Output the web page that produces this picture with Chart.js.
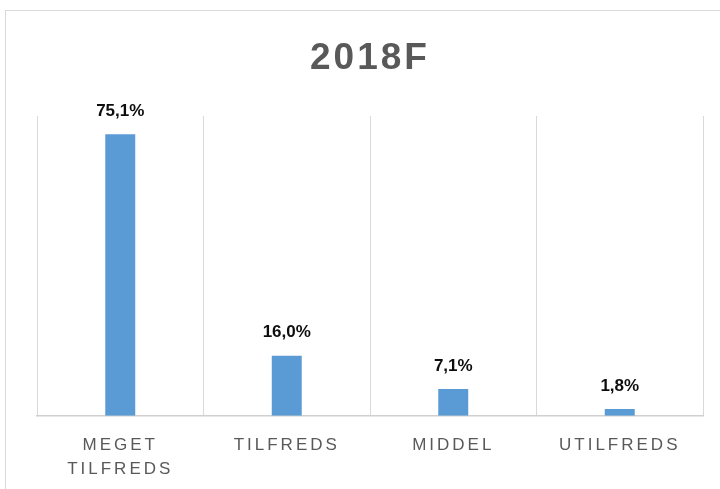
<!DOCTYPE html>
<html lang="da">
<head>
<meta charset="utf-8">
<title>2018F</title>
<script src="https://cdn.jsdelivr.net/npm/chart.js@4/dist/chart.umd.min.js"></script>
<style>
    html, body {
        margin: 0;
        padding: 0;
        width: 720px;
        height: 489px;
        overflow: hidden;
        background: #fff;
    }
    #moldura {
        position: absolute;
        left: 5px;
        top: 10px;
        width: 800px;
        height: 600px;
        border: 1px solid #d9d9d9;
    }
    #grafico {
        position: absolute;
        left: 0;
        top: 0;
    }
</style>
</head>
<body>
<div id="moldura"></div>
<!-- canvas um pouco mais alto que a janela: a parte de baixo fica cortada, como no original -->
<canvas id="grafico" width="720" height="507"></canvas>

<script>
// =======================
// DADOS
// =======================
const titulo = "2018F";
const categorias = [["MEGET", "TILFREDS"], "TILFREDS", "MIDDEL", "UTILFREDS"];
const valores = [75.1, 16.0, 7.1, 1.8];
const eixoMin = 0;
const eixoMax = 80;

// =======================
// CORES / FONTES
// =======================
const COR_BARRA = "#5b9bd5";
const COR_TEXTO = "#595959";
const COR_GRADE = "#d9d9d9";
const FONTE = "'Liberation Sans', 'DejaVu Sans', sans-serif";

// =======================
// PLUGINS
// =======================
// espacamento de letras como no Excel (titulo e categorias)
const espacamento = {
    id: "espacamento",
    beforeUpdate(chart) {
        chart.ctx.letterSpacing = "3px";
    },
    beforeDraw(chart) {
        chart.ctx.letterSpacing = "3px";
    }
};

// rotulos de valor acima das barras
const rotulos = {
    id: "rotulos",
    afterDatasetsDraw(chart) {
        const ctx = chart.ctx;
        const meta = chart.getDatasetMeta(0);

        ctx.save();
        ctx.letterSpacing = "0px";
        ctx.font = "bold 17px " + FONTE;
        ctx.fillStyle = "#0d0d0d";
        ctx.textAlign = "center";
        ctx.textBaseline = "middle";

        meta.data.forEach((bar, i) => {
            const txt = valores[i].toFixed(1).replace(".", ",") + "%";
            ctx.fillText(txt, bar.x, bar.y - 23);
        });

        ctx.restore();
    }
};

// =======================
// GRAFICO
// =======================
new Chart(document.getElementById("grafico"), {
    type: "bar",
    data: {
        labels: categorias,
        datasets: [{
            data: valores,
            backgroundColor: COR_BARRA,
            borderWidth: 0,
            categoryPercentage: 1,
            barPercentage: 0.18
        }]
    },
    options: {
        responsive: false,
        animation: false,
        layout: {
            padding: { left: 37, right: 17, top: 0, bottom: 8 }
        },
        plugins: {
            legend: { display: false },
            tooltip: { enabled: false },
            title: {
                display: true,
                text: titulo,
                color: COR_TEXTO,
                font: { family: FONTE, size: 37, weight: "bold" },
                padding: { top: 37, bottom: 34.6 }
            }
        },
        scales: {
            x: {
                offset: true,
                grid: {
                    offset: true,
                    color: COR_GRADE,
                    lineWidth: 1,
                    drawTicks: false
                },
                border: { color: "#d0d0d0", width: 1.5 },
                ticks: {
                    color: COR_TEXTO,
                    padding: 17,
                    maxRotation: 0,
                    autoSkip: false,
                    font: { family: FONTE, size: 17, lineHeight: 1.45 }
                }
            },
            y: {
                display: false,
                min: eixoMin,
                max: eixoMax
            }
        }
    },
    plugins: [espacamento, rotulos]
});
</script>
</body>
</html>
